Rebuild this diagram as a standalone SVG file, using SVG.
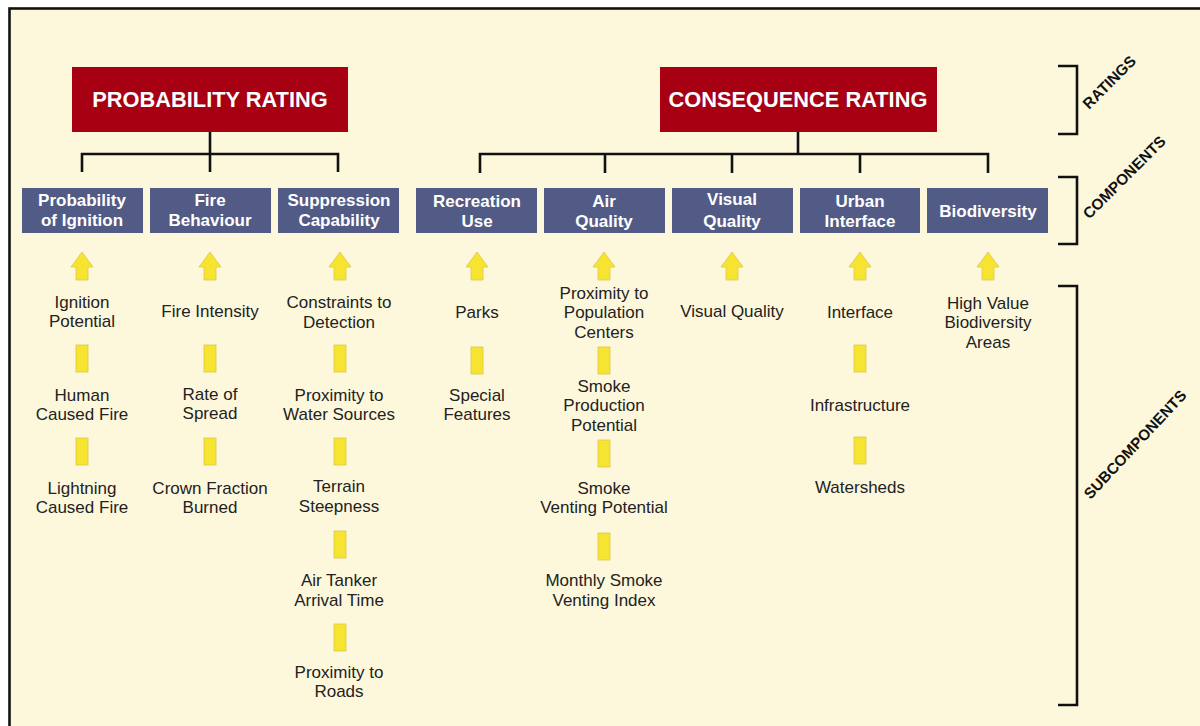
<svg xmlns="http://www.w3.org/2000/svg" width="1200" height="726" viewBox="0 0 1200 726">
<style>
.rt{font-family:"Liberation Sans",Arial,sans-serif;font-weight:bold;font-size:21.8px;fill:#fff;text-anchor:middle}
.ct{font-family:"Liberation Sans",Arial,sans-serif;font-weight:bold;font-size:17px;fill:#fff;text-anchor:middle}
.st{font-family:"Liberation Sans",Arial,sans-serif;font-size:17px;fill:#222;text-anchor:middle}
.lt{font-family:"Liberation Sans",Arial,sans-serif;font-weight:bold;font-size:15.3px;fill:#111;text-anchor:middle}
.red{fill:#a60012}
.blue{fill:#515b86}
.ln{fill:none;stroke:#111;stroke-width:2.6}
.yb{fill:#f7e431;stroke:#d9c94a;stroke-width:0.8}
</style>
<defs>
<polygon id="arr" class="yb" points="0,252 11,267 6,267 6,280 -6,280 -6,267 -11,267"/>
<rect id="bar" class="yb" x="-6" y="0" width="12" height="27"/>
</defs>
<rect x="0" y="0" width="1200" height="726" fill="#ffffff"/>
<rect x="9.5" y="8.5" width="1200" height="730" fill="#fdf8dc" stroke="#111" stroke-width="2.6"/>

<g id="connectors">
<path class="ln" d="M210,131 V154 M82,172 V154 H338 V172 M210,154 V172"/>
<path class="ln" d="M798,131 V154 M480,173 V154 H988 V173 M605,154 V173 M732,154 V173 M860,154 V173"/>
<path class="ln" d="M1058,66 H1077 V134 H1058"/>
<path class="ln" d="M1058,177 H1077 V244 H1058"/>
<path class="ln" d="M1058,286 H1077 V705 H1058"/>
</g>

<g id="probability-rating"><rect class="red" x="72" y="67" width="276" height="65"/><text class="rt" x="210" y="107">PROBABILITY RATING</text></g>
<g id="consequence-rating"><rect class="red" x="660" y="67" width="277" height="65"/><text class="rt" x="798" y="107">CONSEQUENCE RATING</text></g>

<g id="probability-of-ignition"><rect class="blue" x="22" y="188" width="121" height="45"/><text class="ct" x="82" y="206">Probability</text><text class="ct" x="82" y="226">of Ignition</text></g>
<g id="fire-behaviour"><rect class="blue" x="150" y="188" width="121" height="45"/><text class="ct" x="210" y="206">Fire</text><text class="ct" x="210" y="226">Behaviour</text></g>
<g id="suppression-capability"><rect class="blue" x="278" y="188" width="121" height="45"/><text class="ct" x="339" y="206">Suppression</text><text class="ct" x="339" y="226">Capability</text></g>
<g id="recreation-use"><rect class="blue" x="416" y="188" width="121" height="45"/><text class="ct" x="477" y="207">Recreation</text><text class="ct" x="477" y="227">Use</text></g>
<g id="air-quality"><rect class="blue" x="544" y="188" width="121" height="45"/><text class="ct" x="604" y="207">Air</text><text class="ct" x="604" y="227">Quality</text></g>
<g id="visual-quality"><rect class="blue" x="672" y="188" width="121" height="45"/><text class="ct" x="732" y="205">Visual</text><text class="ct" x="732" y="227">Quality</text></g>
<g id="urban-interface"><rect class="blue" x="800" y="188" width="120" height="45"/><text class="ct" x="860" y="207">Urban</text><text class="ct" x="860" y="227">Interface</text></g>
<g id="biodiversity"><rect class="blue" x="927" y="188" width="121" height="45"/><text class="ct" x="988" y="217">Biodiversity</text></g>

<g id="arrows">
<use href="#arr" x="82"/><use href="#arr" x="210"/><use href="#arr" x="340"/><use href="#arr" x="477"/>
<use href="#arr" x="604"/><use href="#arr" x="732"/><use href="#arr" x="860"/><use href="#arr" x="988"/>
<use href="#bar" x="82" y="345"/><use href="#bar" x="82" y="438"/>
<use href="#bar" x="210" y="345"/><use href="#bar" x="210" y="438"/>
<use href="#bar" x="340" y="345"/><use href="#bar" x="340" y="438"/><use href="#bar" x="340" y="531"/><use href="#bar" x="340" y="624"/>
<use href="#bar" x="477" y="347"/>
<use href="#bar" x="604" y="347"/><use href="#bar" x="604" y="440"/><use href="#bar" x="604" y="533"/>
<use href="#bar" x="860" y="345"/><use href="#bar" x="860" y="437"/>
</g>

<g id="sub-ignition">
<text class="st" x="82" y="308">Ignition</text><text class="st" x="82" y="327">Potential</text>
<text class="st" x="82" y="401">Human</text><text class="st" x="82" y="420">Caused Fire</text>
<text class="st" x="82" y="494">Lightning</text><text class="st" x="82" y="513">Caused Fire</text>
</g>
<g id="sub-fire">
<text class="st" x="210" y="317">Fire Intensity</text>
<text class="st" x="210" y="400">Rate of</text><text class="st" x="210" y="419">Spread</text>
<text class="st" x="210" y="494">Crown Fraction</text><text class="st" x="210" y="513">Burned</text>
</g>
<g id="sub-suppression">
<text class="st" x="339" y="308">Constraints to</text><text class="st" x="339" y="328">Detection</text>
<text class="st" x="339" y="401">Proximity to</text><text class="st" x="339" y="420">Water Sources</text>
<text class="st" x="339" y="492">Terrain</text><text class="st" x="339" y="512">Steepness</text>
<text class="st" x="339" y="586">Air Tanker</text><text class="st" x="339" y="606">Arrival Time</text>
<text class="st" x="339" y="678">Proximity to</text><text class="st" x="339" y="697">Roads</text>
</g>
<g id="sub-recreation">
<text class="st" x="477" y="318">Parks</text>
<text class="st" x="477" y="401">Special</text><text class="st" x="477" y="420">Features</text>
</g>
<g id="sub-air">
<text class="st" x="604" y="299">Proximity to</text><text class="st" x="604" y="318">Population</text><text class="st" x="604" y="338">Centers</text>
<text class="st" x="604" y="392">Smoke</text><text class="st" x="604" y="411">Production</text><text class="st" x="604" y="431">Potential</text>
<text class="st" x="604" y="494">Smoke</text><text class="st" x="604" y="513">Venting Potential</text>
<text class="st" x="604" y="586">Monthly Smoke</text><text class="st" x="604" y="606">Venting Index</text>
</g>
<g id="sub-visual"><text class="st" x="732" y="317">Visual Quality</text></g>
<g id="sub-urban">
<text class="st" x="860" y="318">Interface</text>
<text class="st" x="860" y="411">Infrastructure</text>
<text class="st" x="860" y="493">Watersheds</text>
</g>
<g id="sub-biodiversity">
<text class="st" x="988" y="309">High Value</text><text class="st" x="988" y="328">Biodiversity</text><text class="st" x="988" y="348">Areas</text>
</g>

<g id="level-labels">
<text class="lt" transform="translate(1113,86) rotate(-45)">RATINGS</text>
<text class="lt" transform="translate(1128,181) rotate(-45)">COMPONENTS</text>
<text class="lt" transform="translate(1139,448) rotate(-47)">SUBCOMPONENTS</text>
</g>
</svg>
